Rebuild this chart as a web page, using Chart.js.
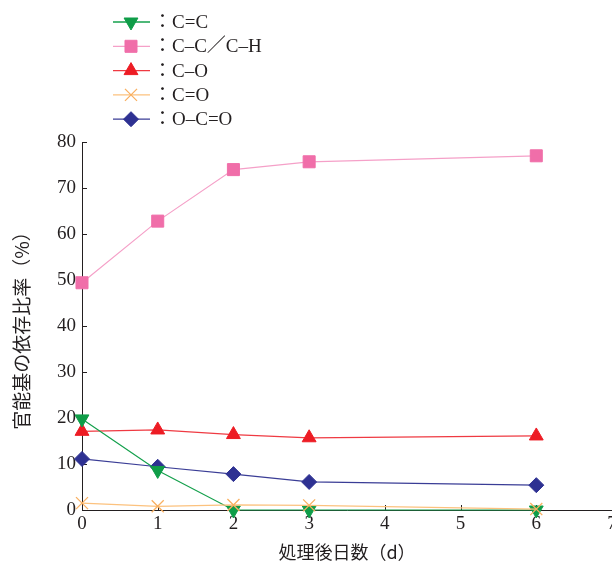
<!DOCTYPE html>
<html>
<head>
<meta charset="utf-8">
<script src="https://cdn.jsdelivr.net/npm/chart.js@4.4.1/dist/chart.umd.min.js"></script>
<style>
  html, body { margin: 0; padding: 0; background: #fff; overflow: hidden; }
</style>
</head>
<body>
<canvas id="chart" width="612" height="565"></canvas>
<script>
// days after treatment
const days = [0, 1, 2, 3, 6];
const seriesNames = ['C=C', 'C–C／C–H', 'C–O', 'C=O', 'O–C=O'];
const ccDouble = [19.8, 8.6, 0, 0, 0];
const ccSingle = [49.4, 62.8, 74.0, 75.7, 77.0];
const cSingleO = [17.1, 17.4, 16.4, 15.7, 16.1];
const cDoubleO = [1.5, 0.8, 1.1, 1.0, 0.2];
const oCdoubleO = [11.1, 9.4, 7.8, 6.1, 5.4];
const xTicks = [0, 1, 2, 3, 4, 5, 6, 7];
const yTicks = [0, 10, 20, 30, 40, 50, 60, 70, 80];
const xTitle = '処理後日数（d）';
const yTitle = '官能基の依存比率（%）';

const INK = '#231f20';
const SERIF = '"Liberation Serif", "Noto Sans CJK JP", serif';
const CJK = '"Noto Sans CJK JP", sans-serif';

function toPoints(values) {
  return days.map((d, i) => ({ x: d, y: values[i] }));
}

function makeSet(label, values, style) {
  return {
    label,
    data: toPoints(values),
    borderColor: style.line,
    borderWidth: 1.2,
    pointBackgroundColor: style.mark,
    pointBorderColor: style.mark,
    pointBorderWidth: style.markWidth || 1,
    pointStyle: style.shape,
    pointRotation: style.rotation || 0,
    pointRadius: style.radius,
    order: style.order,
    clip: false,
    tension: 0,
  };
}

// lower order is drawn on top
const datasets = [
  makeSet(seriesNames[0], ccDouble, { line: '#14a04c', mark: '#0f9d48', shape: 'triangle', rotation: 180, radius: 8, order: 1 }),
  makeSet(seriesNames[1], ccSingle, { line: '#f5a0c8', mark: '#f06ea9', shape: 'rect', radius: 8.5, order: 2 }),
  makeSet(seriesNames[2], cSingleO, { line: '#ef3a42', mark: '#ed1c24', shape: 'triangle', radius: 8, order: 2 }),
  makeSet(seriesNames[3], cDoubleO, { line: '#fcc27e', mark: '#f9b061', shape: 'crossRot', radius: 8.5, markWidth: 1.3, order: 0 }),
  makeSet(seriesNames[4], oCdoubleO, { line: '#3a3d96', mark: '#2e3192', shape: 'rectRot', radius: 7.5, order: 2 }),
];

// legend drawn as one item per row, line through marker
const rowLegend = {
  id: 'rowLegend',
  afterDraw(chart) {
    const ctx = chart.ctx;
    ctx.save();
    chart.data.datasets.forEach((ds, i) => {
      const y = 22 + i * 24.3;
      ctx.strokeStyle = ds.borderColor;
      ctx.lineWidth = 1.3;
      ctx.beginPath();
      ctx.moveTo(113, y);
      ctx.lineTo(150, y);
      ctx.stroke();
      ctx.fillStyle = ds.pointBackgroundColor;
      ctx.strokeStyle = ds.pointBorderColor;
      ctx.lineWidth = ds.pointBorderWidth;
      Chart.helpers.drawPoint(ctx, {
        pointStyle: ds.pointStyle,
        rotation: ds.pointRotation,
        radius: ds.pointRadius,
        borderWidth: ds.pointBorderWidth,
      }, 131, y);
      ctx.fillStyle = INK;
      ctx.font = '19px ' + SERIF;
      ctx.textBaseline = 'middle';
      ctx.textAlign = 'left';
      ctx.fillText('：' + ds.label, 153, y + 1);
    });
    ctx.restore();
  },
};

// short tick marks pointing into the plot
const innerTicks = {
  id: 'innerTicks',
  beforeDatasetsDraw(chart) {
    const { ctx, chartArea } = chart;
    const xs = chart.scales.x;
    const ys = chart.scales.y;
    ctx.save();
    ctx.strokeStyle = INK;
    ctx.lineWidth = 1;
    ctx.beginPath();
    xTicks.forEach((v) => {
      const px = Math.round(xs.getPixelForValue(v)) + 0.5;
      ctx.moveTo(px, chartArea.bottom);
      ctx.lineTo(px, chartArea.bottom - 5);
    });
    yTicks.forEach((v) => {
      const py = Math.round(ys.getPixelForValue(v)) + 0.5;
      ctx.moveTo(chartArea.left, py);
      ctx.lineTo(chartArea.left + 5, py);
    });
    ctx.stroke();
    ctx.restore();
  },
};

const ctx = document.querySelector('#chart').getContext('2d');
// eslint-disable-next-line no-undef
new Chart(ctx, {
  type: 'line',
  data: { datasets },
  plugins: [innerTicks, rowLegend],
  options: {
    responsive: false,
    animation: false,
    devicePixelRatio: 1,
    layout: { autoPadding: false, padding: { top: 142, left: 0, right: 0, bottom: 0 } },
    plugins: { legend: { display: false }, tooltip: { enabled: false } },
    scales: {
      x: {
        type: 'linear',
        min: 0,
        max: 7,
        afterBuildTicks: (scale) => { scale.ticks = xTicks.map((v) => ({ value: v })); },
        afterFit: (scale) => { scale.height = 55; scale.paddingLeft = 0; scale.paddingRight = 0; },
        grid: { display: false, drawTicks: false },
        border: { display: true, color: INK, width: 1 },
        ticks: { color: INK, font: { family: SERIF, size: 19 }, padding: 3, maxRotation: 0 },
        title: { display: true, text: xTitle, color: INK, font: { family: CJK, size: 18 }, padding: { top: 0, bottom: 2 } },
      },
      y: {
        type: 'linear',
        min: 0,
        max: 80,
        afterBuildTicks: (scale) => { scale.ticks = yTicks.map((v) => ({ value: v })); },
        afterFit: (scale) => { scale.width = 82; scale.paddingTop = 0; scale.paddingBottom = 0; },
        grid: { display: false, drawTicks: false },
        border: { display: true, color: INK, width: 1 },
        ticks: { color: INK, font: { family: SERIF, size: 19 }, padding: 6 },
        title: { display: true, text: yTitle, color: INK, font: { family: CJK, size: 19 }, padding: { top: 10, bottom: 0 } },
      },
    },
  },
});
</script>
</body>
</html>
